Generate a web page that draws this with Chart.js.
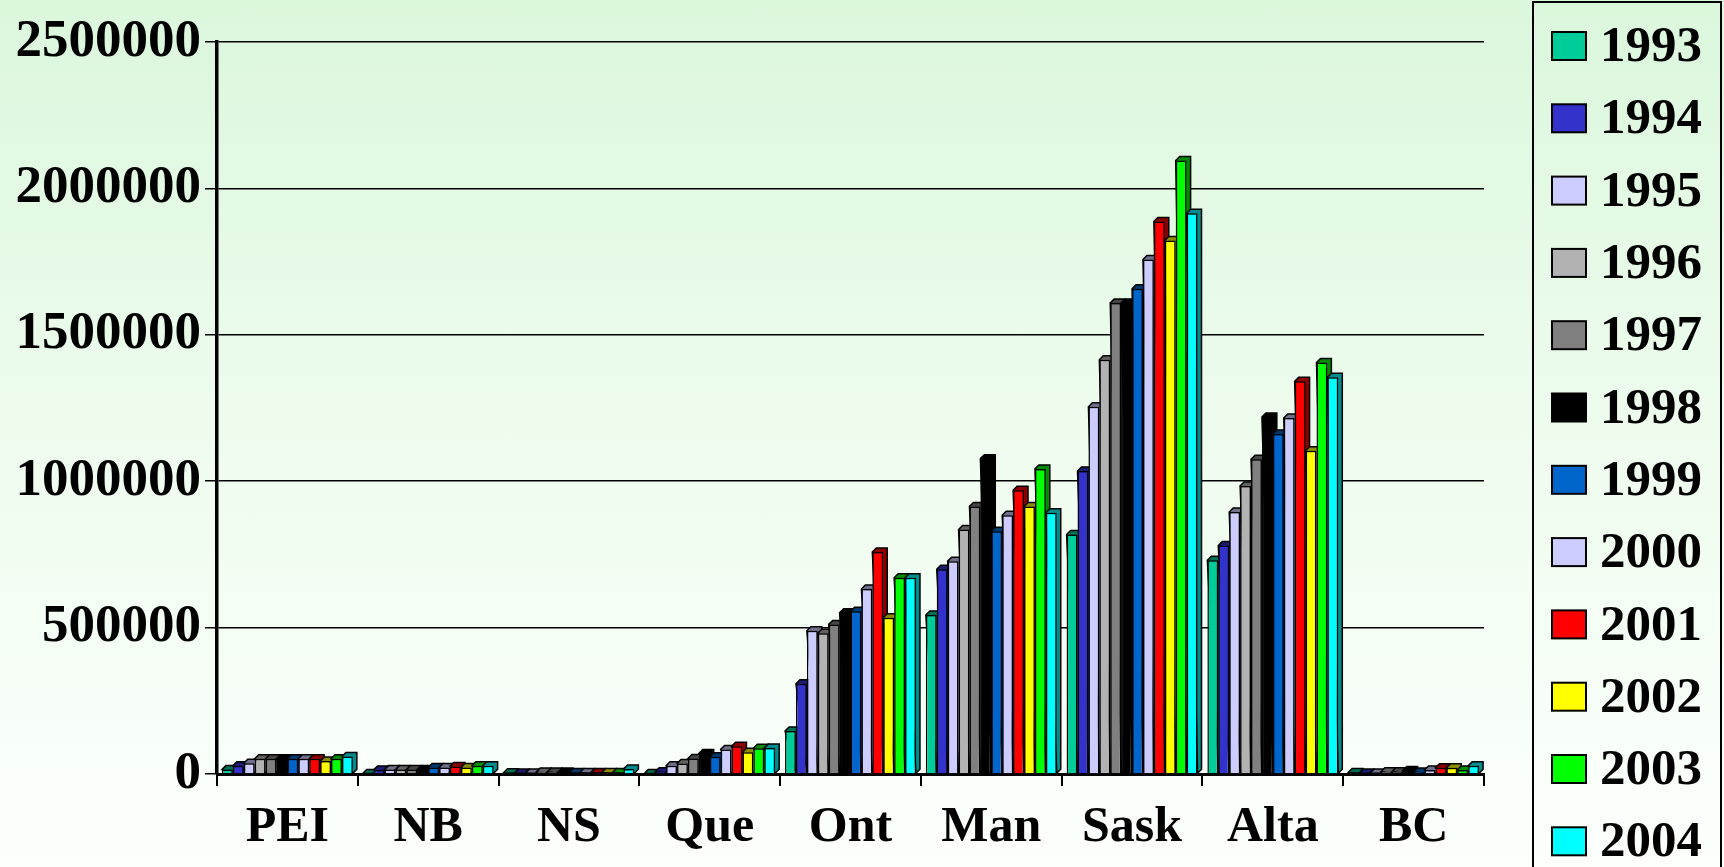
<!DOCTYPE html>
<html>
<head>
<meta charset="utf-8">
<script src="https://cdn.jsdelivr.net/npm/chart.js"></script>
<style>
  html, body { margin: 0; padding: 0; }
  body {
    width: 1724px; height: 867px; overflow: hidden;
    background: linear-gradient(to bottom, #dbf7dc 0%, #eefcee 50%, #fcfffc 100%);
  }
  canvas { display: block; }
</style>
</head>
<body>
<canvas id="chart" width="1724" height="867"></canvas>
<script>
const provinces = ["PEI", "NB", "NS", "Que", "Ont", "Man", "Sask", "Alta", "BC"];
const years = ["1993", "1994", "1995", "1996", "1997", "1998", "1999", "2000", "2001", "2002", "2003", "2004"];
const yearColors = ["#00CC99", "#3333CC", "#CCCCFF", "#B2B2B2", "#808080", "#000000",
                    "#0066CC", "#CCCCFF", "#FF0000", "#FFFF00", "#00FF00", "#00FFFF"];

// one array per year, in province order
const v1993 = [15000, 2000, 4000, 2000, 147000, 543000, 818000, 730000, 5000];
const v1994 = [28000, 14000, 3000, 8000, 308000, 699000, 1035000, 780000, 3000];
const v1995 = [37000, 15000, 3000, 28000, 489000, 727000, 1254000, 895000, 3000];
const v1996 = [52000, 15000, 7000, 36000, 481000, 835000, 1415000, 984000, 8000];
const v1997 = [52000, 15000, 7000, 53000, 511000, 914000, 1609000, 1075000, 8000];
const v1998 = [52000, 15000, 7000, 70000, 551000, 1077000, 1609000, 1219000, 12000];
const v1999 = [52000, 22000, 5000, 59000, 556000, 829000, 1657000, 1161000, 7000];
const v2000 = [52000, 22000, 5000, 84000, 632000, 884000, 1757000, 1216000, 14000];
const v2001 = [52000, 26000, 5000, 95000, 758000, 969000, 1887000, 1341000, 21000];
const v2002 = [44000, 22000, 5000, 74000, 534000, 914000, 1822000, 1104000, 21000];
const v2003 = [52000, 28000, 5000, 88000, 670000, 1042000, 2095000, 1405000, 14000];
const v2004 = [60000, 28000, 17000, 89000, 670000, 892000, 1915000, 1355000, 28000];
const yearValues = [v1993, v1994, v1995, v1996, v1997, v1998, v1999, v2000, v2001, v2002, v2003, v2004];

const yTicks = [0, 500000, 1000000, 1500000, 2000000, 2500000];

const FONT = "'Liberation Serif', 'Times New Roman', serif";

function darker(hex) {
  const n = parseInt(hex.slice(1), 16);
  const r = Math.round(((n >> 16) & 255) * 0.55);
  const g = Math.round(((n >> 8) & 255) * 0.55);
  const b = Math.round((n & 255) * 0.55);
  return `rgb(${r},${g},${b})`;
}

// fake 3D: top + side faces drawn behind the flat bars
const depth3d = {
  id: "depth3d",
  beforeDatasetsDraw(chart) {
    const ctx = chart.ctx;
    const d = 4;
    ctx.save();
    ctx.lineWidth = 1.5;
    ctx.strokeStyle = "#000";
    chart.data.datasets.forEach((ds, i) => {
      const meta = chart.getDatasetMeta(i);
      meta.data.forEach(bar => {
        const p = bar.getProps(["x", "y", "base", "width"], true);
        const l = p.x - p.width / 2, r = p.x + p.width / 2;
        ctx.fillStyle = darker(ds.backgroundColor);
        ctx.beginPath();
        ctx.moveTo(l, p.y);
        ctx.lineTo(l + d, p.y - d);
        ctx.lineTo(r + d, p.y - d);
        ctx.lineTo(r + d, p.base - d);
        ctx.lineTo(r, p.base);
        ctx.closePath();
        ctx.fill();
        ctx.stroke();
      });
    });
    ctx.restore();
  }
};

// boxed legend on the right
const boxLegend = {
  id: "boxLegend",
  afterDraw(chart) {
    const ctx = chart.ctx;
    ctx.save();
    ctx.strokeStyle = "#000";
    ctx.lineWidth = 2;
    ctx.strokeRect(1533, 2, 188, 900);
    ctx.font = "bold 51px " + FONT;
    ctx.textBaseline = "middle";
    ctx.textAlign = "left";
    chart.data.datasets.forEach((ds, i) => {
      const cy = 46 + i * 72.3;
      ctx.fillStyle = ds.backgroundColor;
      ctx.fillRect(1552, cy - 14, 34, 28);
      ctx.strokeRect(1552, cy - 14, 34, 28);
      ctx.fillStyle = "#000";
      ctx.fillText(ds.label, 1600, cy + 2);
    });
    ctx.restore();
  }
};

const datasets = years.map((yr, i) => ({
  label: yr,
  data: yearValues[i],
  backgroundColor: yearColors[i],
  borderColor: "#000",
  borderWidth: 1.5,
  categoryPercentage: 0.93,
  barPercentage: 1.0
}));

new Chart(document.getElementById("chart"), {
  type: "bar",
  data: { labels: provinces, datasets: datasets },
  options: {
    responsive: false,
    animation: false,
    layout: { padding: { top: 42, right: 240, left: 0, bottom: 0 } },
    plugins: {
      legend: { display: false },
      tooltip: { enabled: false }
    },
    scales: {
      x: {
        afterFit(scale) { scale.height = 93; },
        grid: { drawOnChartArea: false, drawTicks: true, tickLength: 12, color: "#000", lineWidth: 2 },
        border: { color: "#000", width: 3 },
        ticks: { color: "#000", padding: 12, font: { family: FONT, size: 50, weight: "bold" } }
      },
      y: {
        min: 0,
        max: 2500000,
        afterFit(scale) { scale.width = 217; },
        afterBuildTicks(scale) { scale.ticks = yTicks.map(v => ({ value: v })); },
        grid: { color: "#000", lineWidth: 1.5, tickLength: 12 },
        border: { color: "#000", width: 3.5 },
        ticks: {
          color: "#000",
          padding: 4,
          font: { family: FONT, size: 53, weight: "bold" },
          callback: v => String(v)
        }
      }
    }
  },
  plugins: [depth3d, boxLegend]
});
</script>
</body>
</html>
